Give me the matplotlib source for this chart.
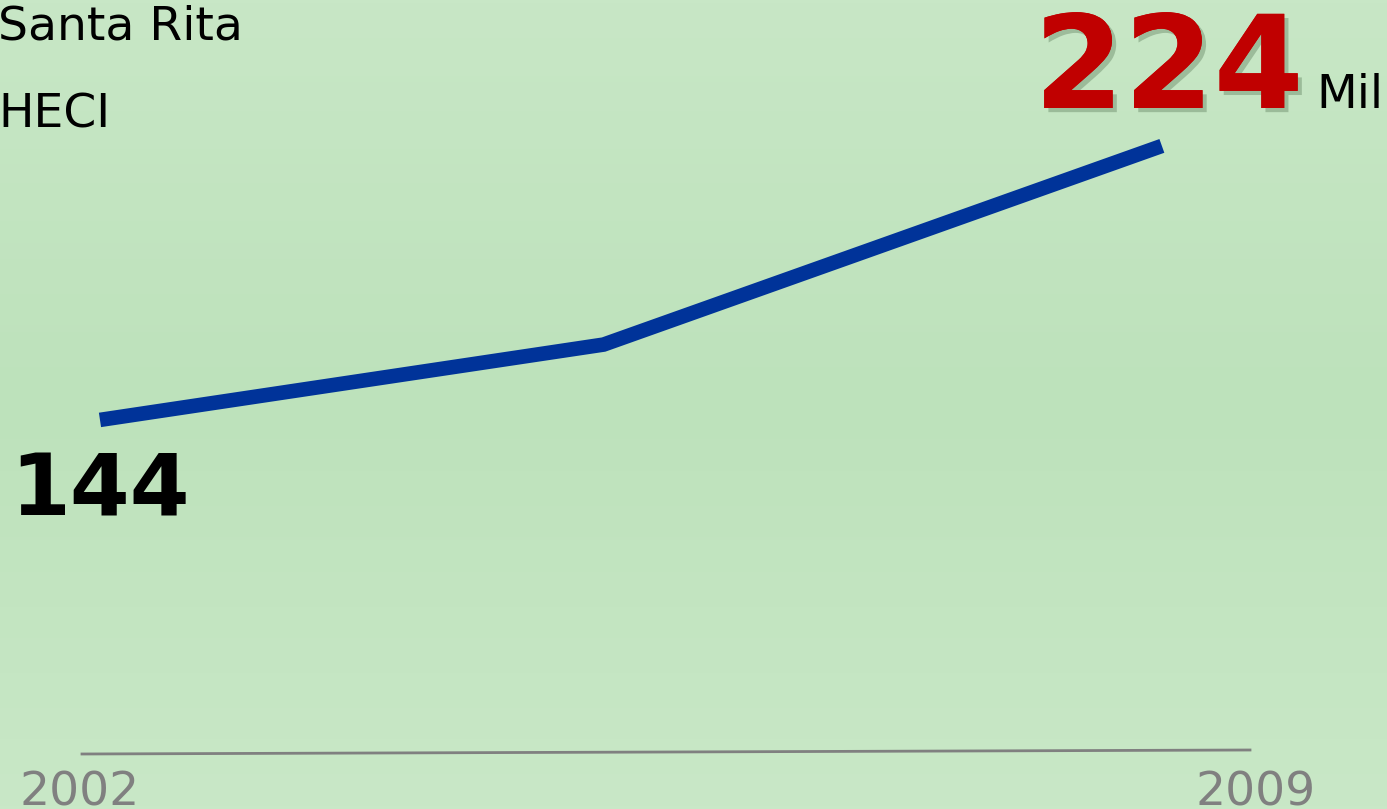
"""
Santa Rita HECI line chart, 2002 -> 2009
"""
import matplotlib.pyplot as plt
import matplotlib.patheffects as pe
import matplotlib.transforms as mtransforms
import numpy as np
from matplotlib.colors import LinearSegmentedColormap

# data
years = [2002, 2005.32, 2009]
values = [144, 166, 224]
tick_labels = ['2002', '2009']
title_lines = ['Santa Rita', 'HECI']
unit = 'Mil'

fig = plt.figure(figsize=(13.87, 8.09), dpi=100)

# background gradient (lighter at top and bottom)
bg = fig.add_axes([0, 0, 1, 1])
bg.set_axis_off()
cmap = LinearSegmentedColormap.from_list('bg', ['#c8e7c6', '#bde2bb', '#c9e8c7'])
grad = np.linspace(0, 1, 256).reshape(-1, 1)
bg.imshow(grad, aspect='auto', cmap=cmap, extent=[0, 1, 0, 1])

ax = fig.add_axes([0, 0, 1, 1], facecolor='none')
ax.set_axis_off()
ax.set_xlim(2001.341, 2010.484)
ax.set_ylim(30.4, 266.6)

# main line
ax.plot(years, values, color='#003399', linewidth=10.5, solid_capstyle='butt',
        solid_joinstyle='miter')

# base line
fig.add_artist(plt.Line2D([82 / 1387, 1250 / 1387], [1 - 754 / 809, 1 - 750 / 809],
                          color='#808080', linewidth=2))

# year labels
fig.text(80 / 1387, 1 - 805 / 809, tick_labels[0], ha='center', va='baseline',
         fontsize=34, color='#808080')
fig.text(1256 / 1387, 1 - 805 / 809, tick_labels[1], ha='center', va='baseline',
         fontsize=34, color='#808080')

# titles
fig.text(-2 / 1387, 1 - 40 / 809, title_lines[0], ha='left', va='baseline',
         fontsize=34, color='black')
fig.text(-2 / 1387, 1 - 128 / 809, title_lines[1], ha='left', va='baseline',
         fontsize=34, color='black')

# start value, under the first point
offset = mtransforms.ScaledTranslation(0, -96 / 100, fig.dpi_scale_trans)
ax.text(years[0], values[0], str(values[0]), ha='center', va='baseline',
        fontsize=62, fontweight='bold', color='black',
        transform=ax.transData + offset)

# end value with soft shadow
shadow = [pe.withSimplePatchShadow(offset=(3, -3), shadow_rgbFace='#4f6e4d', alpha=0.35),
          pe.Normal()]
fig.text(1034 / 1387, 1 - 108 / 809, str(values[-1]), ha='left', va='baseline',
         fontsize=93, fontweight='bold', color='#c00000', path_effects=shadow)
fig.text(1316 / 1387, 1 - 108 / 809, unit, ha='left', va='baseline',
         fontsize=34, color='black')

plt.savefig('out.png', dpi=100)
